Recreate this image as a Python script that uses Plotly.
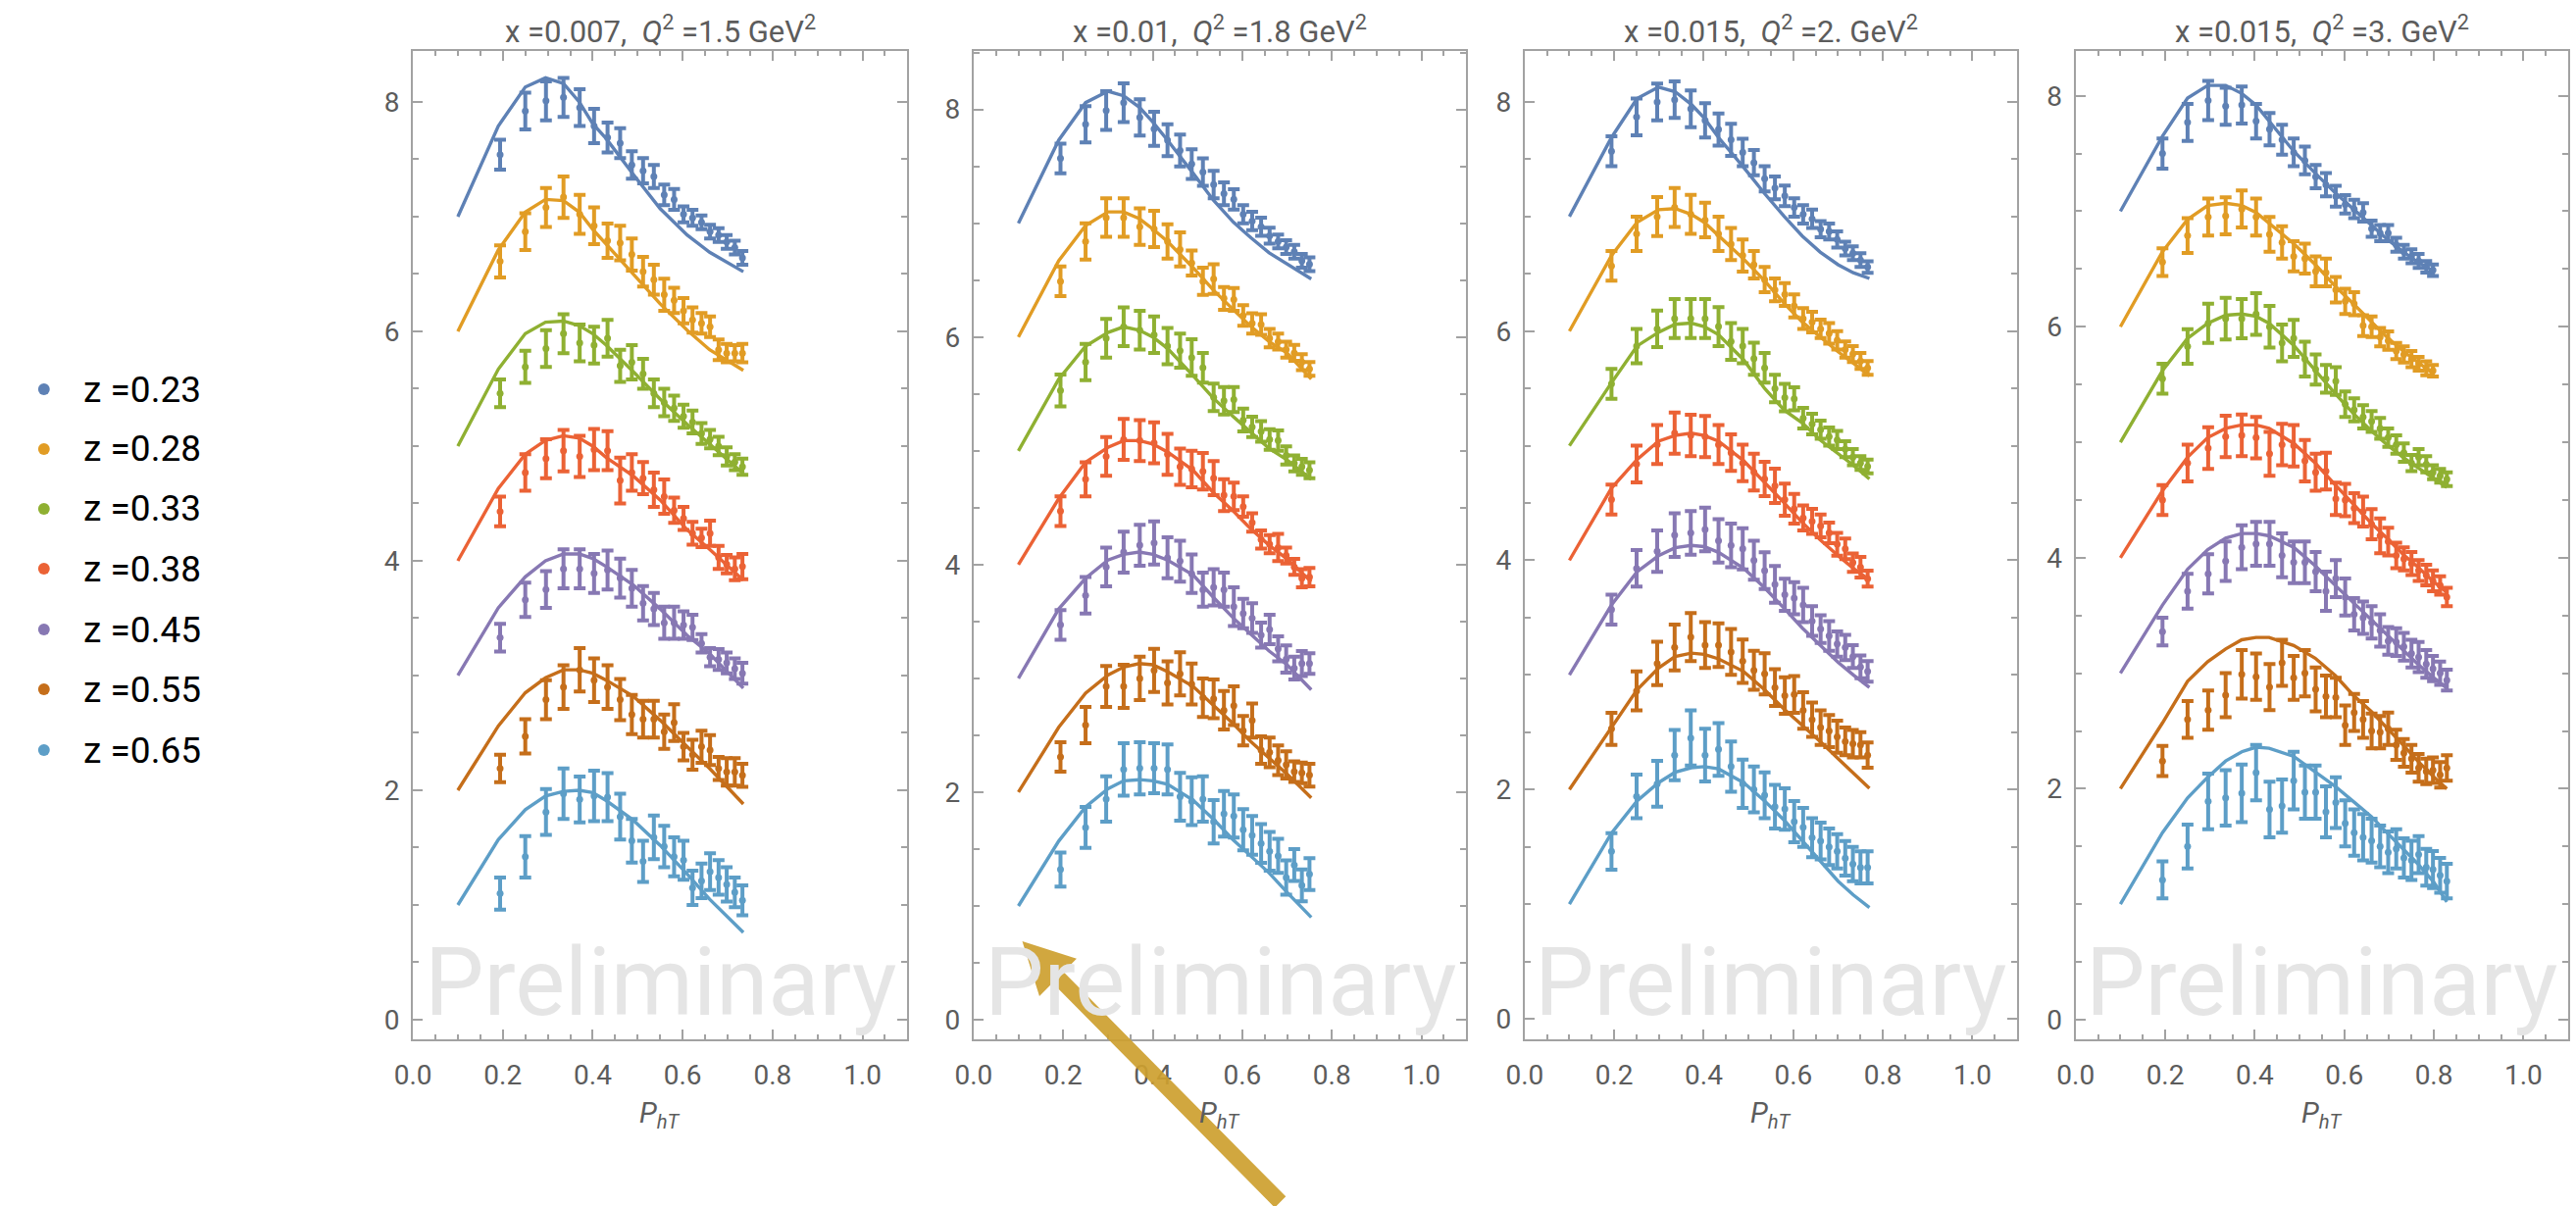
import math
import plotly.graph_objects as go

# ---------------------------------------------------------------- data
Z_LABELS = ["0.23", "0.28", "0.33", "0.38", "0.45", "0.55", "0.65"]
COLORS = ["#5E81B5", "#E19C24", "#8FB032", "#EB6235", "#8778B3", "#C56E1A", "#5D9EC7"]

TITLES = [
    "x =0.007,\u00a0\u00a0<i>Q</i><sup>2</sup> =1.5 GeV<sup>2</sup>",
    "x =0.01,\u00a0\u00a0<i>Q</i><sup>2</sup> =1.8 GeV<sup>2</sup>",
    "x =0.015,\u00a0\u00a0<i>Q</i><sup>2</sup> =2. GeV<sup>2</sup>",
    "x =0.015,\u00a0\u00a0<i>Q</i><sup>2</sup> =3. GeV<sup>2</sup>",
]

# P_hT bin centres
x1 = [0.194, 0.25, 0.296, 0.335, 0.371, 0.403, 0.433, 0.461, 0.487, 0.512, 0.536,
      0.559, 0.581, 0.602, 0.622, 0.642, 0.661, 0.68, 0.698, 0.716, 0.733]
x2 = [0.194, 0.25, 0.296, 0.335, 0.371, 0.403, 0.433, 0.461, 0.487, 0.512, 0.536,
      0.559, 0.581, 0.602, 0.622, 0.642, 0.661, 0.68, 0.698, 0.716, 0.733, 0.75]
x3 = [0.194, 0.25, 0.296, 0.335, 0.371, 0.403, 0.433, 0.461, 0.487, 0.512, 0.536,
      0.559, 0.581, 0.602, 0.622, 0.642, 0.661, 0.68, 0.698, 0.716, 0.733, 0.75, 0.766]
x4 = [0.194, 0.25, 0.296, 0.335, 0.371, 0.403, 0.433, 0.461, 0.487, 0.512, 0.536,
      0.559, 0.581, 0.602, 0.622, 0.642, 0.661, 0.68, 0.698, 0.716, 0.733, 0.75, 0.766,
      0.783, 0.798, 0.814, 0.829]

# model curve nodes
fx1 = [0.1, 0.19, 0.25, 0.295, 0.335, 0.37, 0.40, 0.43, 0.49, 0.55, 0.61, 0.66, 0.735]
fx2 = [0.1, 0.19, 0.25, 0.30, 0.335, 0.37, 0.40, 0.433, 0.49, 0.536, 0.58, 0.62, 0.66, 0.70, 0.754]
fx3 = [0.1, 0.194, 0.251, 0.299, 0.336, 0.372, 0.401, 0.433, 0.489, 0.536, 0.58, 0.62, 0.66, 0.70, 0.734, 0.77]
fx4 = [0.1, 0.194, 0.25, 0.295, 0.335, 0.371, 0.403, 0.432, 0.487, 0.535, 0.58, 0.62, 0.66, 0.695, 0.731, 0.764, 0.8, 0.829]

# ---- panel 1 : x = 0.007, Q2 = 1.5
y1_z23 = [7.54, 7.92, 8.01, 8.04, 7.95, 7.79, 7.69, 7.64, 7.45, 7.40, 7.35, 7.19, 7.15, 7.02, 6.99, 6.95, 6.87, 6.84, 6.78, 6.73, 6.64]
e1_z23 = [0.13, 0.16, 0.17, 0.17, 0.16, 0.15, 0.13, 0.13, 0.12, 0.11, 0.10, 0.09, 0.09, 0.07, 0.07, 0.06, 0.06, 0.06, 0.06, 0.06, 0.06]
f1_z23 = [7.0, 7.79, 8.13, 8.21, 8.16, 8.0, 7.81, 7.68, 7.37, 7.07, 6.84, 6.69, 6.52]
y1_z28 = [6.61, 6.87, 7.08, 7.17, 7.02, 6.92, 6.79, 6.77, 6.67, 6.52, 6.45, 6.32, 6.27, 6.18, 6.10, 6.07, 6.04, 5.84, 5.81, 5.81, 5.81]
e1_z28 = [0.14, 0.16, 0.17, 0.18, 0.17, 0.16, 0.15, 0.15, 0.14, 0.13, 0.13, 0.14, 0.11, 0.11, 0.11, 0.09, 0.09, 0.09, 0.08, 0.07, 0.08]
f1_z28 = [6.0, 6.71, 7.04, 7.15, 7.14, 7.04, 6.89, 6.76, 6.49, 6.24, 6.01, 5.84, 5.66]
y1_z33 = [5.46, 5.69, 5.85, 5.98, 5.90, 5.88, 5.94, 5.70, 5.73, 5.63, 5.46, 5.38, 5.33, 5.26, 5.21, 5.11, 5.06, 5.00, 4.91, 4.86, 4.82]
e1_z33 = [0.12, 0.14, 0.16, 0.17, 0.16, 0.16, 0.16, 0.14, 0.15, 0.13, 0.12, 0.12, 0.11, 0.10, 0.10, 0.09, 0.08, 0.08, 0.08, 0.07, 0.07]
f1_z33 = [5.0, 5.67, 5.98, 6.08, 6.09, 6.05, 5.98, 5.88, 5.65, 5.41, 5.19, 5.02, 4.76]
y1_z38 = [4.43, 4.77, 4.89, 4.96, 4.91, 4.97, 4.96, 4.70, 4.77, 4.72, 4.62, 4.56, 4.44, 4.37, 4.24, 4.20, 4.24, 4.03, 3.97, 3.93, 3.95]
e1_z38 = [0.13, 0.16, 0.17, 0.18, 0.18, 0.18, 0.17, 0.20, 0.16, 0.14, 0.15, 0.15, 0.11, 0.10, 0.10, 0.08, 0.11, 0.10, 0.08, 0.10, 0.11]
f1_z38 = [4.0, 4.63, 4.93, 5.05, 5.09, 5.07, 5.0, 4.90, 4.74, 4.53, 4.27, 4.10, 3.83]
y1_z45 = [3.33, 3.66, 3.75, 3.93, 3.93, 3.89, 3.92, 3.85, 3.76, 3.63, 3.58, 3.46, 3.46, 3.44, 3.42, 3.28, 3.16, 3.14, 3.11, 3.06, 3.02]
e1_z45 = [0.12, 0.15, 0.16, 0.17, 0.17, 0.17, 0.17, 0.17, 0.16, 0.15, 0.14, 0.14, 0.14, 0.12, 0.11, 0.08, 0.08, 0.09, 0.09, 0.09, 0.09]
f1_z45 = [3.0, 3.59, 3.86, 4.0, 4.06, 4.06, 4.02, 3.95, 3.79, 3.58, 3.35, 3.19, 2.89]
y1_z55 = [2.19, 2.47, 2.79, 2.90, 3.05, 2.96, 2.90, 2.79, 2.66, 2.62, 2.62, 2.51, 2.59, 2.38, 2.31, 2.38, 2.35, 2.19, 2.16, 2.16, 2.13]
e1_z55 = [0.12, 0.15, 0.17, 0.19, 0.19, 0.19, 0.19, 0.18, 0.17, 0.16, 0.16, 0.15, 0.16, 0.12, 0.13, 0.14, 0.13, 0.10, 0.12, 0.12, 0.10]
f1_z55 = [2.0, 2.56, 2.85, 2.98, 3.05, 3.05, 3.02, 2.96, 2.82, 2.61, 2.38, 2.19, 1.88]
y1_z65 = [1.10, 1.42, 1.81, 1.97, 1.92, 1.95, 1.94, 1.77, 1.56, 1.38, 1.59, 1.51, 1.42, 1.39, 1.15, 1.21, 1.29, 1.24, 1.18, 1.11, 1.04]
e1_z65 = [0.14, 0.18, 0.20, 0.22, 0.20, 0.22, 0.21, 0.20, 0.19, 0.18, 0.19, 0.18, 0.17, 0.17, 0.15, 0.15, 0.16, 0.15, 0.15, 0.13, 0.13]
f1_z65 = [1.0, 1.57, 1.83, 1.95, 1.99, 2.0, 1.98, 1.91, 1.74, 1.52, 1.27, 1.05, 0.76]

# ---- panel 2 : x = 0.01, Q2 = 1.8
y2_z23 = [7.57, 7.87, 7.99, 8.06, 7.93, 7.83, 7.73, 7.64, 7.52, 7.45, 7.34, 7.26, 7.21, 7.08, 7.02, 6.97, 6.89, 6.84, 6.79, 6.75, 6.67, 6.64]
e2_z23 = [0.13, 0.16, 0.17, 0.17, 0.16, 0.15, 0.14, 0.14, 0.13, 0.12, 0.12, 0.10, 0.09, 0.08, 0.08, 0.08, 0.07, 0.06, 0.06, 0.06, 0.06, 0.06]
f2_z23 = [7.0, 7.73, 8.06, 8.16, 8.12, 8.02, 7.89, 7.73, 7.44, 7.20, 7.01, 6.87, 6.74, 6.64, 6.51]
y2_z28 = [6.49, 6.84, 7.05, 7.05, 6.97, 6.95, 6.84, 6.77, 6.65, 6.49, 6.51, 6.34, 6.33, 6.19, 6.12, 6.11, 5.99, 5.96, 5.89, 5.86, 5.78, 5.72]
e2_z28 = [0.13, 0.16, 0.17, 0.17, 0.16, 0.16, 0.15, 0.15, 0.11, 0.12, 0.13, 0.10, 0.10, 0.09, 0.09, 0.09, 0.08, 0.07, 0.07, 0.07, 0.07, 0.06]
f2_z28 = [6.0, 6.67, 6.98, 7.10, 7.10, 7.04, 6.95, 6.84, 6.61, 6.41, 6.24, 6.09, 5.96, 5.86, 5.63]
y2_z33 = [5.53, 5.78, 5.99, 6.09, 6.06, 6.02, 5.92, 5.88, 5.82, 5.73, 5.47, 5.44, 5.45, 5.27, 5.21, 5.17, 5.10, 5.09, 4.96, 4.89, 4.86, 4.83]
e2_z33 = [0.14, 0.16, 0.17, 0.17, 0.17, 0.16, 0.16, 0.15, 0.16, 0.13, 0.12, 0.12, 0.11, 0.10, 0.09, 0.09, 0.09, 0.09, 0.08, 0.07, 0.07, 0.07]
f2_z33 = [5.0, 5.63, 5.92, 6.04, 6.09, 6.06, 6.00, 5.90, 5.66, 5.46, 5.30, 5.16, 5.02, 4.92, 4.75]
y2_z38 = [4.47, 4.75, 4.95, 5.10, 5.09, 5.07, 4.97, 4.86, 4.84, 4.82, 4.76, 4.61, 4.60, 4.51, 4.37, 4.22, 4.18, 4.15, 4.08, 3.98, 3.88, 3.89]
e2_z38 = [0.13, 0.15, 0.17, 0.18, 0.18, 0.18, 0.18, 0.16, 0.16, 0.16, 0.15, 0.14, 0.12, 0.09, 0.08, 0.08, 0.08, 0.12, 0.07, 0.07, 0.08, 0.08]
f2_z38 = [4.0, 4.58, 4.90, 5.03, 5.09, 5.09, 5.06, 4.99, 4.83, 4.63, 4.47, 4.31, 4.17, 4.05, 3.85]
y2_z45 = [3.47, 3.73, 3.98, 4.11, 4.17, 4.19, 4.06, 4.03, 3.92, 3.78, 3.80, 3.78, 3.63, 3.57, 3.53, 3.38, 3.43, 3.26, 3.17, 3.09, 3.13, 3.13]
e2_z45 = [0.13, 0.16, 0.17, 0.18, 0.18, 0.19, 0.18, 0.18, 0.17, 0.15, 0.16, 0.15, 0.17, 0.13, 0.13, 0.11, 0.13, 0.11, 0.12, 0.10, 0.11, 0.09]
f2_z45 = [3.0, 3.61, 3.88, 4.04, 4.09, 4.11, 4.09, 4.04, 3.91, 3.71, 3.53, 3.38, 3.24, 3.12, 2.90]
y2_z55 = [2.31, 2.59, 2.93, 2.93, 3.00, 3.07, 2.96, 3.04, 2.95, 2.83, 2.82, 2.72, 2.76, 2.54, 2.63, 2.37, 2.35, 2.28, 2.24, 2.18, 2.17, 2.15]
e2_z55 = [0.13, 0.16, 0.18, 0.19, 0.19, 0.19, 0.19, 0.19, 0.18, 0.17, 0.17, 0.17, 0.17, 0.13, 0.15, 0.12, 0.13, 0.13, 0.12, 0.09, 0.09, 0.10]
f2_z55 = [2.0, 2.57, 2.87, 3.03, 3.10, 3.13, 3.12, 3.06, 2.93, 2.76, 2.60, 2.44, 2.30, 2.16, 1.95]
y2_z65 = [1.32, 1.69, 1.94, 2.20, 2.21, 2.21, 2.20, 1.96, 1.92, 1.94, 1.74, 1.81, 1.79, 1.67, 1.62, 1.55, 1.48, 1.44, 1.25, 1.36, 1.18, 1.28]
e2_z65 = [0.15, 0.18, 0.20, 0.23, 0.23, 0.22, 0.22, 0.21, 0.21, 0.20, 0.19, 0.20, 0.19, 0.18, 0.17, 0.17, 0.17, 0.15, 0.15, 0.14, 0.14, 0.14]
f2_z65 = [1.0, 1.57, 1.87, 2.03, 2.10, 2.11, 2.10, 2.07, 1.93, 1.76, 1.58, 1.43, 1.29, 1.12, 0.90]

# ---- panel 3 : x = 0.015, Q2 = 2
y3_z23 = [7.57, 7.87, 8.00, 8.02, 7.94, 7.84, 7.76, 7.67, 7.56, 7.47, 7.33, 7.25, 7.18, 7.08, 7.02, 6.98, 6.89, 6.87, 6.80, 6.72, 6.68, 6.62, 6.56]
e3_z23 = [0.13, 0.16, 0.16, 0.16, 0.16, 0.15, 0.14, 0.14, 0.12, 0.11, 0.11, 0.10, 0.09, 0.08, 0.08, 0.08, 0.07, 0.07, 0.07, 0.06, 0.06, 0.06, 0.05]
f3_z23 = [7.0, 7.69, 8.03, 8.13, 8.09, 7.98, 7.86, 7.69, 7.43, 7.20, 7.00, 6.83, 6.69, 6.58, 6.51, 6.46]
y3_z28 = [6.57, 6.85, 7.00, 7.08, 7.02, 6.97, 6.85, 6.76, 6.66, 6.58, 6.45, 6.36, 6.32, 6.22, 6.11, 6.08, 6.02, 5.98, 5.92, 5.84, 5.80, 5.74, 5.68]
e3_z28 = [0.13, 0.15, 0.17, 0.17, 0.17, 0.15, 0.15, 0.14, 0.14, 0.12, 0.11, 0.10, 0.10, 0.10, 0.09, 0.09, 0.08, 0.09, 0.08, 0.07, 0.07, 0.07, 0.06]
f3_z28 = [6.0, 6.66, 6.95, 7.06, 7.07, 7.02, 6.95, 6.83, 6.63, 6.44, 6.24, 6.08, 5.95, 5.82, 5.72, 5.61]
y3_z33 = [5.54, 5.87, 6.02, 6.11, 6.11, 6.11, 6.04, 5.91, 5.87, 5.76, 5.68, 5.50, 5.42, 5.41, 5.24, 5.19, 5.14, 5.08, 5.05, 4.97, 4.90, 4.85, 4.82]
e3_z33 = [0.13, 0.15, 0.16, 0.17, 0.17, 0.17, 0.17, 0.16, 0.15, 0.14, 0.13, 0.12, 0.12, 0.10, 0.09, 0.09, 0.08, 0.08, 0.08, 0.07, 0.07, 0.06, 0.06]
f3_z33 = [5.0, 5.55, 5.87, 5.99, 6.06, 6.07, 6.04, 5.97, 5.75, 5.50, 5.31, 5.20, 5.05, 4.93, 4.83, 4.71]
y3_z38 = [4.53, 4.84, 5.01, 5.11, 5.09, 5.08, 5.01, 4.94, 4.85, 4.77, 4.71, 4.65, 4.53, 4.45, 4.37, 4.34, 4.30, 4.24, 4.14, 4.10, 3.98, 3.94, 3.84]
e3_z38 = [0.13, 0.16, 0.17, 0.18, 0.18, 0.18, 0.17, 0.16, 0.16, 0.16, 0.15, 0.15, 0.14, 0.13, 0.11, 0.11, 0.10, 0.09, 0.10, 0.09, 0.08, 0.09, 0.07]
f3_z38 = [4.0, 4.63, 4.88, 5.04, 5.09, 5.11, 5.09, 5.04, 4.87, 4.68, 4.50, 4.33, 4.18, 4.04, 3.93, 3.83]
y3_z45 = [3.57, 3.93, 4.08, 4.22, 4.24, 4.27, 4.17, 4.13, 4.10, 4.00, 3.91, 3.79, 3.70, 3.67, 3.61, 3.47, 3.40, 3.34, 3.27, 3.24, 3.16, 3.07, 3.03]
e3_z45 = [0.13, 0.16, 0.18, 0.19, 0.19, 0.19, 0.19, 0.19, 0.18, 0.17, 0.16, 0.16, 0.14, 0.14, 0.15, 0.13, 0.12, 0.13, 0.11, 0.11, 0.10, 0.10, 0.09]
f3_z45 = [3.0, 3.61, 3.90, 4.04, 4.11, 4.13, 4.12, 4.07, 3.93, 3.76, 3.58, 3.41, 3.26, 3.11, 3.00, 2.89]
y3_z55 = [2.53, 2.86, 3.10, 3.24, 3.33, 3.26, 3.26, 3.20, 3.12, 3.04, 3.01, 2.89, 2.82, 2.83, 2.69, 2.61, 2.54, 2.51, 2.46, 2.42, 2.40, 2.39, 2.30]
e3_z55 = [0.14, 0.17, 0.19, 0.20, 0.21, 0.20, 0.19, 0.20, 0.19, 0.17, 0.18, 0.16, 0.16, 0.16, 0.16, 0.15, 0.15, 0.14, 0.14, 0.12, 0.12, 0.11, 0.11]
f3_z55 = [2.0, 2.54, 2.87, 3.06, 3.16, 3.19, 3.18, 3.14, 3.03, 2.87, 2.70, 2.56, 2.42, 2.27, 2.14, 2.01]
y3_z65 = [1.46, 1.94, 2.05, 2.30, 2.45, 2.30, 2.35, 2.20, 2.05, 2.00, 1.95, 1.85, 1.83, 1.72, 1.67, 1.58, 1.55, 1.50, 1.46, 1.40, 1.35, 1.32, 1.32]
e3_z65 = [0.16, 0.19, 0.20, 0.22, 0.24, 0.23, 0.23, 0.22, 0.21, 0.20, 0.20, 0.19, 0.18, 0.18, 0.17, 0.17, 0.16, 0.16, 0.15, 0.15, 0.15, 0.14, 0.14]
f3_z65 = [1.0, 1.62, 1.90, 2.06, 2.15, 2.19, 2.20, 2.18, 2.06, 1.90, 1.73, 1.55, 1.37, 1.20, 1.08, 0.97]

# ---- panel 4 : x = 0.015, Q2 = 3
y4_z23 = [7.50, 7.77, 7.96, 7.91, 7.92, 7.78, 7.71, 7.62, 7.51, 7.44, 7.30, 7.23, 7.13, 7.06, 7.02, 6.99, 6.85, 6.81, 6.81, 6.71, 6.65, 6.61, 6.57, 6.52, 6.49]
e4_z23 = [0.13, 0.16, 0.17, 0.16, 0.16, 0.15, 0.14, 0.13, 0.12, 0.12, 0.10, 0.10, 0.09, 0.08, 0.08, 0.08, 0.07, 0.07, 0.07, 0.06, 0.06, 0.06, 0.06, 0.05, 0.05]
f4_z23 = [7.0, 7.65, 7.98, 8.09, 8.09, 8.02, 7.92, 7.78, 7.52, 7.33, 7.16, 7.02, 6.88, 6.76, 6.65, 6.56, 6.48]
y4_z28 = [6.56, 6.79, 6.95, 6.96, 7.02, 6.95, 6.80, 6.73, 6.61, 6.59, 6.48, 6.47, 6.32, 6.22, 6.20, 6.01, 6.00, 5.91, 5.88, 5.79, 5.76, 5.72, 5.68, 5.64, 5.62]
e4_z28 = [0.12, 0.15, 0.16, 0.16, 0.16, 0.16, 0.15, 0.14, 0.13, 0.13, 0.13, 0.12, 0.11, 0.11, 0.10, 0.09, 0.09, 0.08, 0.08, 0.07, 0.07, 0.07, 0.06, 0.06, 0.05]
f4_z28 = [6.0, 6.65, 6.93, 7.05, 7.07, 7.05, 6.99, 6.90, 6.72, 6.54, 6.35, 6.20, 6.04, 5.91, 5.79, 5.69, 5.59]
y4_z33 = [5.55, 5.83, 6.03, 6.07, 6.07, 6.11, 6.00, 5.86, 5.90, 5.72, 5.63, 5.55, 5.53, 5.33, 5.28, 5.22, 5.18, 5.12, 5.04, 4.98, 4.91, 4.82, 4.87, 4.81, 4.74, 4.71, 4.68]
e4_z33 = [0.13, 0.15, 0.17, 0.18, 0.17, 0.18, 0.18, 0.16, 0.16, 0.15, 0.13, 0.12, 0.12, 0.11, 0.10, 0.10, 0.09, 0.09, 0.08, 0.08, 0.08, 0.07, 0.07, 0.07, 0.06, 0.06, 0.06]
f4_z33 = [5.0, 5.62, 5.90, 6.03, 6.10, 6.11, 6.09, 6.03, 5.84, 5.62, 5.42, 5.25, 5.10, 4.98, 4.87, 4.78, 4.69, 4.61]
y4_z38 = [4.50, 4.82, 4.95, 5.05, 5.06, 5.04, 4.90, 4.98, 4.97, 4.84, 4.74, 4.75, 4.51, 4.50, 4.43, 4.40, 4.29, 4.19, 4.14, 4.02, 3.99, 3.95, 3.89, 3.85, 3.80, 3.76, 3.66]
e4_z38 = [0.13, 0.16, 0.18, 0.18, 0.18, 0.18, 0.19, 0.18, 0.18, 0.18, 0.16, 0.16, 0.14, 0.14, 0.13, 0.13, 0.13, 0.15, 0.12, 0.11, 0.10, 0.10, 0.09, 0.09, 0.09, 0.08, 0.08]
f4_z38 = [4.0, 4.58, 4.87, 5.04, 5.12, 5.15, 5.15, 5.12, 4.99, 4.82, 4.63, 4.46, 4.30, 4.17, 4.03, 3.92, 3.79, 3.70]
y4_z45 = [3.36, 3.71, 3.86, 3.97, 4.09, 4.12, 4.12, 4.02, 3.96, 3.96, 3.88, 3.71, 3.82, 3.66, 3.51, 3.48, 3.44, 3.37, 3.28, 3.27, 3.23, 3.17, 3.14, 3.08, 3.04, 3.00, 2.94]
e4_z45 = [0.12, 0.15, 0.17, 0.17, 0.19, 0.19, 0.19, 0.19, 0.18, 0.18, 0.17, 0.17, 0.16, 0.16, 0.14, 0.14, 0.14, 0.14, 0.12, 0.12, 0.12, 0.12, 0.13, 0.12, 0.11, 0.10, 0.09]
f4_z45 = [3.0, 3.59, 3.90, 4.07, 4.17, 4.21, 4.21, 4.19, 4.09, 3.93, 3.76, 3.61, 3.47, 3.33, 3.20, 3.08, 2.96, 2.87]
y4_z55 = [2.24, 2.60, 2.68, 2.81, 2.99, 2.97, 2.88, 3.09, 2.96, 3.00, 2.86, 2.80, 2.79, 2.55, 2.66, 2.60, 2.50, 2.49, 2.52, 2.38, 2.31, 2.26, 2.18, 2.15, 2.16, 2.12, 2.18]
e4_z55 = [0.13, 0.16, 0.17, 0.19, 0.21, 0.20, 0.20, 0.20, 0.19, 0.20, 0.19, 0.18, 0.17, 0.17, 0.16, 0.16, 0.15, 0.14, 0.14, 0.13, 0.12, 0.12, 0.12, 0.11, 0.11, 0.11, 0.11]
f4_z55 = [2.0, 2.57, 2.93, 3.10, 3.21, 3.29, 3.31, 3.31, 3.24, 3.13, 2.98, 2.81, 2.67, 2.53, 2.38, 2.24, 2.10, 2.00]
y4_z65 = [1.21, 1.50, 1.89, 1.92, 1.96, 2.14, 1.82, 1.85, 2.07, 1.97, 1.97, 1.80, 1.88, 1.70, 1.62, 1.58, 1.55, 1.50, 1.45, 1.48, 1.40, 1.38, 1.43, 1.32, 1.30, 1.25, 1.20]
e4_z65 = [0.16, 0.19, 0.24, 0.24, 0.25, 0.24, 0.24, 0.23, 0.25, 0.23, 0.23, 0.22, 0.22, 0.20, 0.20, 0.20, 0.19, 0.18, 0.18, 0.17, 0.17, 0.17, 0.16, 0.16, 0.16, 0.15, 0.15]
f4_z65 = [1.0, 1.62, 1.92, 2.10, 2.24, 2.32, 2.36, 2.35, 2.28, 2.15, 2.02, 1.89, 1.76, 1.62, 1.48, 1.35, 1.19, 1.02]

# ---------------------------------------------------------------- panels
panels = [
    dict(x=x1, fx=fx1,
         ys=[y1_z23, y1_z28, y1_z33, y1_z38, y1_z45, y1_z55, y1_z65],
         es=[e1_z23, e1_z28, e1_z33, e1_z38, e1_z45, e1_z55, e1_z65],
         fs=[f1_z23, f1_z28, f1_z33, f1_z38, f1_z45, f1_z55, f1_z65]),
    dict(x=x2, fx=fx2,
         ys=[y2_z23, y2_z28, y2_z33, y2_z38, y2_z45, y2_z55, y2_z65],
         es=[e2_z23, e2_z28, e2_z33, e2_z38, e2_z45, e2_z55, e2_z65],
         fs=[f2_z23, f2_z28, f2_z33, f2_z38, f2_z45, f2_z55, f2_z65]),
    dict(x=x3, fx=fx3,
         ys=[y3_z23, y3_z28, y3_z33, y3_z38, y3_z45, y3_z55, y3_z65],
         es=[e3_z23, e3_z28, e3_z33, e3_z38, e3_z45, e3_z55, e3_z65],
         fs=[f3_z23, f3_z28, f3_z33, f3_z38, f3_z45, f3_z55, f3_z65]),
    dict(x=x4, fx=fx4,
         ys=[y4_z23, y4_z28, y4_z33, y4_z38, y4_z45, y4_z55, y4_z65],
         es=[e4_z23, e4_z28, e4_z33, e4_z38, e4_z45, e4_z55, e4_z65],
         fs=[f4_z23, f4_z28, f4_z33, f4_z38, f4_z45, f4_z55, f4_z65]),
]

# ---------------------------------------------------------------- layout geometry (pixels)
W, H = 2627, 1230
FONT = "Roboto"
TXT = "#5c5c5c"
FRAME = "#a2a2a2"
PLOT_TOP, PLOT_BOT = 52, 1060
PANEL_PX = [(405, 913), (981, 1487), (1547, 2053), (2113, 2619)]
Y_RANGES = [(-0.171, 8.444), (-0.172, 8.514), (-0.18, 8.445), (-0.17, 8.388)]

fig = go.Figure()

for i, p in enumerate(panels):
    xa = "x" if i == 0 else f"x{i + 1}"
    ya = "y" if i == 0 else f"y{i + 1}"
    for j in range(7):
        n = len(p["ys"][j])
        fig.add_trace(go.Scatter(
            x=p["x"][:n], y=p["ys"][j], xaxis=xa, yaxis=ya, mode="markers",
            marker=dict(size=7, color=COLORS[j]),
            error_y=dict(type="data", array=p["es"][j], visible=True,
                         thickness=4, width=6, color=COLORS[j]),
            hoverinfo="skip", showlegend=False))
    for j in range(7):
        m = len(p["fs"][j])
        fig.add_trace(go.Scatter(
            x=p["fx"][:m], y=p["fs"][j], xaxis=xa, yaxis=ya, mode="lines",
            line=dict(color=COLORS[j], width=3.4),
            hoverinfo="skip", showlegend=False))

layout = dict(
    width=W, height=H, margin=dict(l=0, r=0, t=0, b=0),
    paper_bgcolor="white", plot_bgcolor="white", showlegend=False,
    font=dict(family=FONT, color=TXT),
)

for i, (l, r) in enumerate(PANEL_PX):
    sx = "" if i == 0 else str(i + 1)
    layout[f"xaxis{sx}"] = dict(
        domain=[l / W, r / W], anchor=f"y{sx}", range=[0, 1.1],
        tick0=0, dtick=0.2, tickformat=".1f",
        showline=True, linecolor=FRAME, linewidth=2, mirror="ticks",
        ticks="inside", ticklen=10, tickwidth=1.5, tickcolor=FRAME,
        minor=dict(tick0=0, dtick=0.05, ticks="inside", ticklen=5,
                   tickwidth=1.5, tickcolor=FRAME, showgrid=False),
        showgrid=False, zeroline=False, ticklabelstandoff=10,
        tickfont=dict(family=FONT, size=28, color=TXT),
    )
    layout[f"yaxis{sx}"] = dict(
        domain=[1 - PLOT_BOT / H, 1 - PLOT_TOP / H], anchor=f"x{sx}",
        range=list(Y_RANGES[i]), tick0=0, dtick=2, tickformat="d",
        showline=True, linecolor=FRAME, linewidth=2, mirror="ticks",
        ticks="inside", ticklen=10, tickwidth=1.5, tickcolor=FRAME,
        minor=dict(tick0=0, dtick=0.5, ticks="inside", ticklen=6,
                   tickwidth=1.5, tickcolor=FRAME, showgrid=False),
        showgrid=False, zeroline=False, ticklabelstandoff=6,
        tickfont=dict(family=FONT, size=28, color=TXT),
    )

fig.update_layout(**layout)

annotations = []
shapes = []
for i, (l, r) in enumerate(PANEL_PX):
    sx = "" if i == 0 else str(i + 1)
    cx = (l + r) / 2 / W
    annotations.append(dict(
        text=TITLES[i], x=cx, y=1 - 30 / H, xref="paper", yref="paper",
        xanchor="center", yanchor="middle", showarrow=False,
        font=dict(family=FONT, size=31, color=TXT)))
    annotations.append(dict(
        text="<i>P</i><sub><i>hT</i></sub>", x=cx, y=1 - 1137 / H,
        xref="paper", yref="paper", xanchor="center", yanchor="middle",
        showarrow=False, font=dict(family=FONT, size=29, color=TXT)))
    annotations.append(dict(
        text="Preliminary", x=0.5, y=0.058, xref=f"x{sx} domain", yref=f"y{sx} domain",
        xanchor="center", yanchor="middle", showarrow=False,
        font=dict(family=FONT, size=96, color="#e5e5e5")))

# legend
LEG_ROWS = [397, 458, 519, 580, 642, 703, 765]
for j, yc in enumerate(LEG_ROWS):
    shapes.append(dict(
        type="circle", xref="paper", yref="paper",
        x0=(26 - 6) / W, x1=(26 + 6) / W, y0=1 - (yc + 6) / H, y1=1 - (yc - 6) / H,
        fillcolor=COLORS[j], line=dict(width=0)))
    annotations.append(dict(
        text=f"z =0{Z_LABELS[j][1:]}", x=64 / W, y=1 - yc / H, xref="paper", yref="paper",
        xanchor="left", yanchor="middle", showarrow=False,
        font=dict(family=FONT, size=37, color="black")))

# pointer arrow
tip = (1031.0, 960.0)
tail = (1296.0, 1226.0)
dx, dy = tip[0] - tail[0], tip[1] - tail[1]
ln = math.hypot(dx, dy)
ux, uy = dx / ln, dy / ln
nx, ny = -uy, ux
head_len, head_hw, shaft_hw = 52.0, 27.0, 8.0
bx, by = tip[0] - ux * head_len, tip[1] - uy * head_len
pts = [
    tip,
    (bx + nx * head_hw, by + ny * head_hw),
    (bx + nx * shaft_hw, by + ny * shaft_hw),
    (tail[0] + nx * shaft_hw, tail[1] + ny * shaft_hw),
    (tail[0] - nx * shaft_hw, tail[1] - ny * shaft_hw),
    (bx - nx * shaft_hw, by - ny * shaft_hw),
    (bx - nx * head_hw, by - ny * head_hw),
]
path = "M " + " L ".join(f"{px / W:.5f},{1 - py / H:.5f}" for px, py in pts) + " Z"
shapes.append(dict(type="path", path=path, xref="paper", yref="paper",
                   fillcolor="#CDA02F", line=dict(width=0), opacity=0.92, layer="above"))

fig.update_layout(annotations=annotations, shapes=shapes)
fig.write_html("out.html")
